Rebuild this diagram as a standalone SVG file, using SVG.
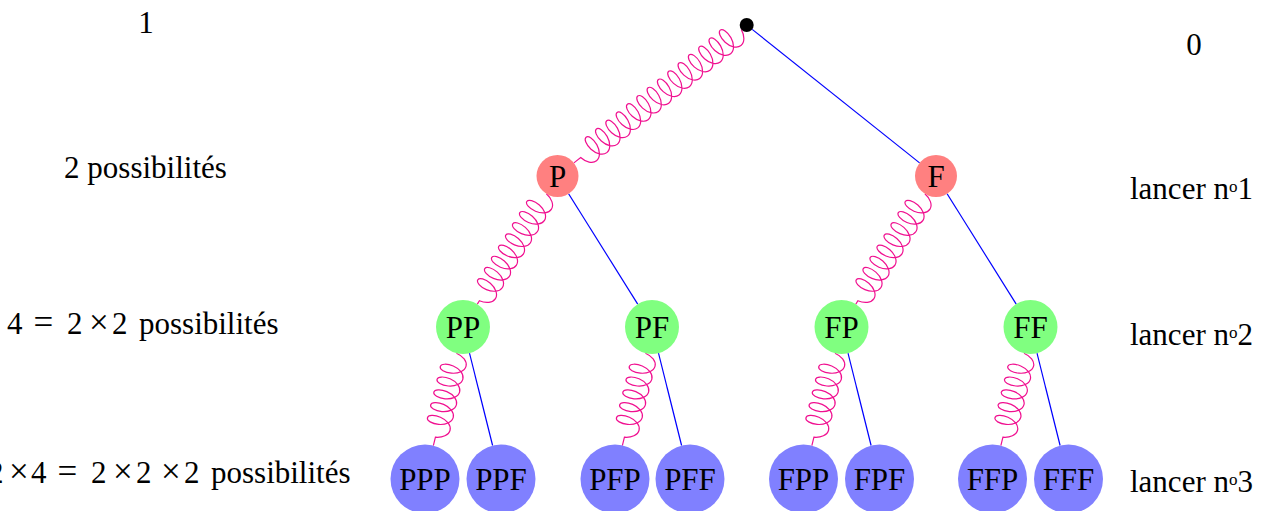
<svg xmlns="http://www.w3.org/2000/svg" width="1265" height="511" viewBox="0 0 1265 511">
<style>
text{font-family:"Liberation Serif","DejaVu Serif",serif;font-size:31px;fill:#000}
.c{text-anchor:middle}
.op{font-size:35px}
.sup{font-size:17px}
.coil{fill:none;stroke:#f01090;stroke-width:1.2}
.ln{stroke:#0000ff;stroke-width:1.2;fill:none}
.n1{fill:#ff8080}
.n2{fill:#80ff80}
.n3{fill:#8080ff}
</style>
<defs>
<path id="coil1" d="M7,0 c1.1,-6.94 5.315,-12.5 10.3,-12.5 c4.985,0 9.2,5.56 10.3,12.5 c1.1,6.94 -0.915,12.5 -3.7,12.5 c-2.785,0 -4.8,-5.56 -3.7,-12.5 c1.1,-6.94 5.315,-12.5 10.3,-12.5 c4.985,0 9.2,5.56 10.3,12.5 c1.1,6.94 -0.915,12.5 -3.7,12.5 c-2.785,0 -4.8,-5.56 -3.7,-12.5 c1.1,-6.94 5.315,-12.5 10.3,-12.5 c4.985,0 9.2,5.56 10.3,12.5 c1.1,6.94 -0.915,12.5 -3.7,12.5 c-2.785,0 -4.8,-5.56 -3.7,-12.5 c1.1,-6.94 5.315,-12.5 10.3,-12.5 c4.985,0 9.2,5.56 10.3,12.5 c1.1,6.94 -0.915,12.5 -3.7,12.5 c-2.785,0 -4.8,-5.56 -3.7,-12.5 c1.1,-6.94 5.315,-12.5 10.3,-12.5 c4.985,0 9.2,5.56 10.3,12.5 c1.1,6.94 -0.915,12.5 -3.7,12.5 c-2.785,0 -4.8,-5.56 -3.7,-12.5 c1.1,-6.94 5.315,-12.5 10.3,-12.5 c4.985,0 9.2,5.56 10.3,12.5 c1.1,6.94 -0.915,12.5 -3.7,12.5 c-2.785,0 -4.8,-5.56 -3.7,-12.5 c1.1,-6.94 5.315,-12.5 10.3,-12.5 c4.985,0 9.2,5.56 10.3,12.5 c1.1,6.94 -0.915,12.5 -3.7,12.5 c-2.785,0 -4.8,-5.56 -3.7,-12.5 c1.1,-6.94 5.315,-12.5 10.3,-12.5 c4.985,0 9.2,5.56 10.3,12.5 c1.1,6.94 -0.915,12.5 -3.7,12.5 c-2.785,0 -4.8,-5.56 -3.7,-12.5 c1.1,-6.94 5.315,-12.5 10.3,-12.5 c4.985,0 9.2,5.56 10.3,12.5 c1.1,6.94 -0.915,12.5 -3.7,12.5 c-2.785,0 -4.8,-5.56 -3.7,-12.5 c1.1,-6.94 5.315,-12.5 10.3,-12.5 c4.985,0 9.2,5.56 10.3,12.5 c1.1,6.94 -0.915,12.5 -3.7,12.5 c-2.785,0 -4.8,-5.56 -3.7,-12.5 c1.1,-6.94 5.315,-12.5 10.3,-12.5 c4.985,0 9.2,5.56 10.3,12.5 c1.1,6.94 -0.915,12.5 -3.7,12.5 c-2.785,0 -4.8,-5.56 -3.7,-12.5 c1.1,-6.94 5.315,-12.5 10.3,-12.5 c4.985,0 9.2,5.56 10.3,12.5 c1.1,6.94 -0.915,12.5 -3.7,12.5 c-2.785,0 -4.8,-5.56 -3.7,-12.5 c1.1,-6.94 5.315,-12.5 10.3,-12.5 c4.985,0 9.2,5.56 10.3,12.5 c1.1,6.94 -0.915,12.5 -3.7,12.5 c-2.785,0 -4.8,-5.56 -3.7,-12.5 c1.1,-6.94 5.315,-12.5 10.3,-12.5 c4.985,0 9.2,5.56 10.3,12.5 c1.1,6.94 -0.915,12.5 -3.7,12.5 c-2.785,0 -4.8,-5.56 -3.7,-12.5 c1.1,-6.94 5.315,-12.5 10.3,-12.5 c4.985,0 9.2,5.56 10.3,12.5 l8.66,0"/>
<path id="coil2" d="M21,0 c1.1,-6.94 5.315,-12.5 10.3,-12.5 c4.985,0 9.2,5.56 10.3,12.5 c1.1,6.94 -0.915,12.5 -3.7,12.5 c-2.785,0 -4.8,-5.56 -3.7,-12.5 c1.1,-6.94 5.315,-12.5 10.3,-12.5 c4.985,0 9.2,5.56 10.3,12.5 c1.1,6.94 -0.915,12.5 -3.7,12.5 c-2.785,0 -4.8,-5.56 -3.7,-12.5 c1.1,-6.94 5.315,-12.5 10.3,-12.5 c4.985,0 9.2,5.56 10.3,12.5 c1.1,6.94 -0.915,12.5 -3.7,12.5 c-2.785,0 -4.8,-5.56 -3.7,-12.5 c1.1,-6.94 5.315,-12.5 10.3,-12.5 c4.985,0 9.2,5.56 10.3,12.5 c1.1,6.94 -0.915,12.5 -3.7,12.5 c-2.785,0 -4.8,-5.56 -3.7,-12.5 c1.1,-6.94 5.315,-12.5 10.3,-12.5 c4.985,0 9.2,5.56 10.3,12.5 c1.1,6.94 -0.915,12.5 -3.7,12.5 c-2.785,0 -4.8,-5.56 -3.7,-12.5 c1.1,-6.94 5.315,-12.5 10.3,-12.5 c4.985,0 9.2,5.56 10.3,12.5 c1.1,6.94 -0.915,12.5 -3.7,12.5 c-2.785,0 -4.8,-5.56 -3.7,-12.5 c1.1,-6.94 5.315,-12.5 10.3,-12.5 c4.985,0 9.2,5.56 10.3,12.5 c1.1,6.94 -0.915,12.5 -3.7,12.5 c-2.785,0 -4.8,-5.56 -3.7,-12.5 c1.1,-6.94 5.315,-12.5 10.3,-12.5 c4.985,0 9.2,5.56 10.3,12.5 c1.1,6.94 -0.915,12.5 -3.7,12.5 c-2.785,0 -4.8,-5.56 -3.7,-12.5 c1.1,-6.94 5.315,-12.5 10.3,-12.5 c4.985,0 9.2,5.56 10.3,12.5 l3.93,0"/>
<path id="coil3" d="M27,0 c1.1,-6.94 5.315,-12.5 10.3,-12.5 c4.985,0 9.2,5.56 10.3,12.5 c1.1,6.94 -0.915,12.5 -3.7,12.5 c-2.785,0 -4.8,-5.56 -3.7,-12.5 c1.1,-6.94 5.315,-12.5 10.3,-12.5 c4.985,0 9.2,5.56 10.3,12.5 c1.1,6.94 -0.915,12.5 -3.7,12.5 c-2.785,0 -4.8,-5.56 -3.7,-12.5 c1.1,-6.94 5.315,-12.5 10.3,-12.5 c4.985,0 9.2,5.56 10.3,12.5 c1.1,6.94 -0.915,12.5 -3.7,12.5 c-2.785,0 -4.8,-5.56 -3.7,-12.5 c1.1,-6.94 5.315,-12.5 10.3,-12.5 c4.985,0 9.2,5.56 10.3,12.5 c1.1,6.94 -0.915,12.5 -3.7,12.5 c-2.785,0 -4.8,-5.56 -3.7,-12.5 c1.1,-6.94 5.315,-12.5 10.3,-12.5 c4.985,0 9.2,5.56 10.3,12.5 c1.1,6.94 -0.915,12.5 -3.7,12.5 c-2.785,0 -4.8,-5.56 -3.7,-12.5 c1.1,-6.94 5.315,-12.5 10.3,-12.5 c4.985,0 9.2,5.56 10.3,12.5 l8.58,0"/>
</defs>
<rect width="1265" height="511" fill="#fff"/>
<g id="connectors">
<use href="#coil1" class="coil" transform="translate(746.7,25) rotate(141.41)"/>
<line class="ln" x1="752.2" y1="29.4" x2="919.6" y2="162.9"/>
<use href="#coil2" class="coil" transform="translate(557.5,176) rotate(122.04)"/>
<line class="ln" x1="568.6" y1="193.8" x2="637.7" y2="304.1"/>
<use href="#coil2" class="coil" transform="translate(936,176) rotate(122.04)"/>
<line class="ln" x1="947.1" y1="193.8" x2="1016.2" y2="304.1"/>
<use href="#coil3" class="coil" transform="translate(463,327) rotate(104.04)"/>
<line class="ln" x1="469.5" y1="353.2" x2="492.6" y2="445.5"/>
<use href="#coil3" class="coil" transform="translate(652,327) rotate(104.04)"/>
<line class="ln" x1="658.5" y1="353.2" x2="681.6" y2="445.5"/>
<use href="#coil3" class="coil" transform="translate(841.5,327) rotate(104.04)"/>
<line class="ln" x1="848" y1="353.2" x2="871.1" y2="445.5"/>
<use href="#coil3" class="coil" transform="translate(1030.5,327) rotate(104.04)"/>
<line class="ln" x1="1037" y1="353.2" x2="1060.1" y2="445.5"/>
</g>
<g id="root"><circle cx="746.7" cy="25" r="7" fill="#000"/></g>
<g id="P"><circle class="n1" cx="557.5" cy="176" r="21"/><text class="c" x="557.5" y="186.5">P</text></g>
<g id="F"><circle class="n1" cx="936" cy="176" r="21"/><text class="c" x="936" y="186.5">F</text></g>
<g id="PP"><circle class="n2" cx="463" cy="327" r="27"/><text class="c" x="463" y="337.5">PP</text></g>
<g id="PF"><circle class="n2" cx="652" cy="327" r="27"/><text class="c" x="652" y="337.5">PF</text></g>
<g id="FP"><circle class="n2" cx="841.5" cy="327" r="27"/><text class="c" x="841.5" y="337.5">FP</text></g>
<g id="FF"><circle class="n2" cx="1030.5" cy="327" r="27"/><text class="c" x="1030.5" y="337.5">FF</text></g>
<g id="PPP"><circle class="n3" cx="425" cy="479" r="34.5"/><text class="c" x="425" y="489.5">PPP</text></g>
<g id="PPF"><circle class="n3" cx="501" cy="479" r="34.5"/><text class="c" x="501" y="489.5">PPF</text></g>
<g id="PFP"><circle class="n3" cx="615" cy="479" r="34.5"/><text class="c" x="615" y="489.5">PFP</text></g>
<g id="PFF"><circle class="n3" cx="690" cy="479" r="34.5"/><text class="c" x="690" y="489.5">PFF</text></g>
<g id="FPP"><circle class="n3" cx="803.5" cy="479" r="34.5"/><text class="c" x="803.5" y="489.5">FPP</text></g>
<g id="FPF"><circle class="n3" cx="879.5" cy="479" r="34.5"/><text class="c" x="879.5" y="489.5">FPF</text></g>
<g id="FFP"><circle class="n3" cx="992.5" cy="479" r="34.5"/><text class="c" x="992.5" y="489.5">FFP</text></g>
<g id="FFF"><circle class="n3" cx="1068.5" cy="479" r="34.5"/><text class="c" x="1068.5" y="489.5">FFF</text></g>
<g id="left-labels">
<text class="c" x="146" y="33">1</text>
<text class="c" x="145.5" y="178">2 possibilités</text>
<text x="7 24 33.5 56 67 84 89 107 112 129 139" y="334">4 <tspan class="op">=</tspan> 2 <tspan class="op">×</tspan> 2 possibilités</text>
<text x="-72 -56 -49 -28 -12 3 9 27 31 48 57.5 80 91 108 113 131 136 154 161 179 184 200 211" y="483">8 <tspan class="op">=</tspan> 2 <tspan class="op">×</tspan> 4 <tspan class="op">=</tspan> 2 <tspan class="op">×</tspan> 2 <tspan class="op">×</tspan> 2 possibilités</text>
</g>
<g id="right-labels">
<text class="c" x="1194" y="54.5">0</text>
<text x="1130" y="199">lancer n<tspan class="sup" dy="-7">o</tspan><tspan dy="7">1</tspan></text>
<text x="1130" y="345">lancer n<tspan class="sup" dy="-7">o</tspan><tspan dy="7">2</tspan></text>
<text x="1130" y="492">lancer n<tspan class="sup" dy="-7">o</tspan><tspan dy="7">3</tspan></text>
</g>
</svg>
